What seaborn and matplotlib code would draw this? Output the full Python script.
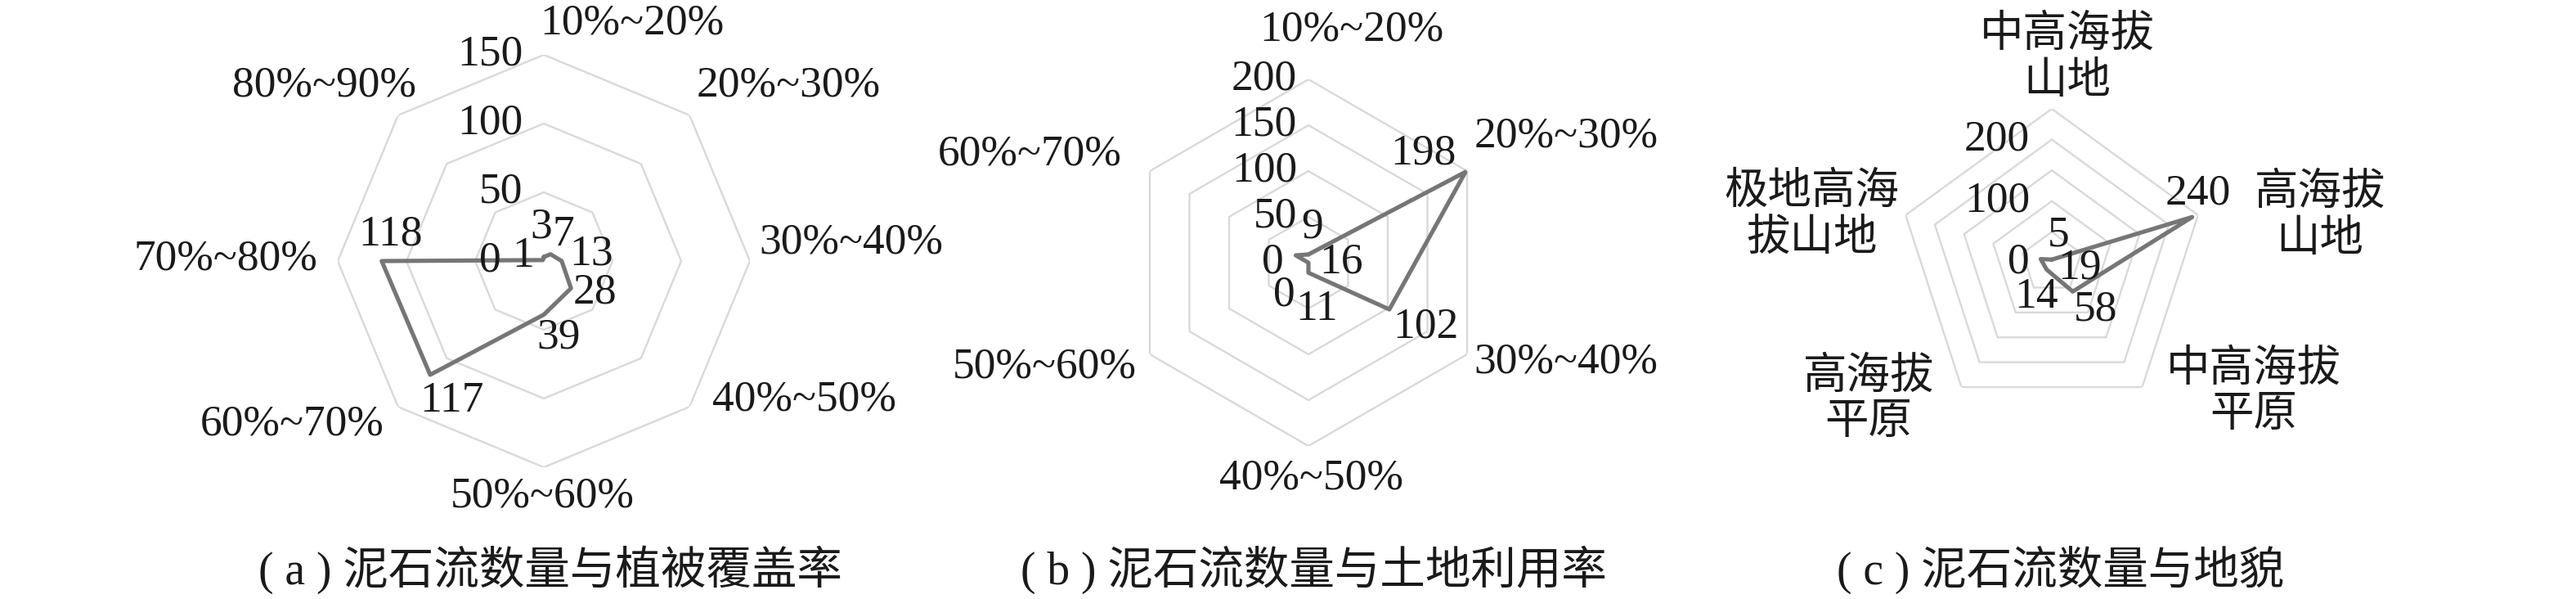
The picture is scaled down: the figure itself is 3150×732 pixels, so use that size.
import numpy as np
import seaborn as sns
import matplotlib
matplotlib.use("Agg")
import matplotlib.pyplot as plt

# data
veg_cats = ["10%~20%", "20%~30%", "30%~40%", "40%~50%",
            "50%~60%", "60%~70%", "70%~80%", "80%~90%"]
veg_counts = [3, 7, 13, 28, 39, 117, 118, 1]

land_cats = ["10%~20%", "20%~30%", "30%~40%", "40%~50%", "50%~60%", "60%~70%"]
land_counts = [9, 198, 102, 11, 0, 16]

geo_cats = ["中高海拔\n山地", "高海拔\n山地", "中高海拔\n平原", "高海拔\n平原", "极地高海\n拔山地"]
geo_counts = [5, 240, 58, 14, 19]

veg_rings = [50, 100, 150]
veg_ticks = [0, 50, 100, 150]
land_rings = [50, 100, 150, 200]
land_ticks = [0, 50, 100, 150, 200]
geo_rings = [50, 100, 150, 200, 250]
geo_ticks = [0, 100, 200]

captions = ["( a ) 泥石流数量与植被覆盖率", "( b ) 泥石流数量与土地利用率", "( c ) 泥石流数量与地貌"]

sns.set_theme(style="white")
plt.rcParams["font.family"] = ["Liberation Serif", "Noto Sans CJK SC"]

W, H = 3150, 732
LINE = "#767676"
GRID = "#d9d9d9"
TXT = "#1a1a1a"
FS = 38.5

# layout, in pixels from the top-left corner
panels = [
    dict(cats=veg_cats, vals=veg_counts, rings=veg_rings, ticks=veg_ticks,
         cx=665, cy=319, R=252, tick_dx=-26, zero_dx=-52,
         lab_off=[(-3, -36), (15, -24), (36, -9), (29, 5), (18, 28), (26, 32), (11, -32), (-24, -5)],
         cat_off=[(108, -291), (299, -215), (376, -23), (319, 170), (-2, 288),
                  (-308, 199), (-389, -2), (-268, -215)],
         cap_x=673),
    dict(cats=land_cats, vals=land_counts, rings=land_rings, ticks=land_ticks,
         cx=1600, cy=321, R=224, tick_dx=-14, zero_dx=-30,
         lab_off=[(5, -33), (-52, -23), (45, 21), (10, 45), (-30, 39), (56, 8)],
         cat_off=[(53, -284), (315, -154), (315, 122), (4, 263), (-323, 127), (-341, -133)],
         cap_x=1606),
    dict(cats=geo_cats, vals=geo_counts, rings=geo_rings, ticks=geo_ticks,
         cx=2509, cy=321, R=188, tick_dx=-27, zero_dx=-27,
         lab_off=[(8, -30), (7, -29), (28, 22), (-13, 33), (48, 11)],
         cat_off=[(19, -249), (328, -56), (247, 159), (-224, 168), (-294, -57)],
         cap_x=2520),
]

fig = plt.figure(figsize=(W / 100, H / 100), dpi=100)

for p in panels:
    R = p["R"]
    rect = [(p["cx"] - R) / W, (H - p["cy"] - R) / H, 2 * R / W, 2 * R / H]
    ax = fig.add_axes(rect, projection="polar")
    ax.set_theta_zero_location("N")
    ax.set_theta_direction(-1)
    ax.set_ylim(0, p["rings"][-1])
    ax.grid(False)
    ax.set_xticks([])
    ax.set_yticks([])
    ax.spines["polar"].set_visible(False)
    ax.patch.set_alpha(0)

    n = len(p["cats"])
    theta = np.linspace(0, 2 * np.pi, n, endpoint=False)
    theta_closed = np.append(theta, 2 * np.pi)

    for r in p["rings"]:
        ax.plot(theta_closed, [r] * (n + 1), color=GRID, lw=1.7, zorder=1)

    vals_closed = list(p["vals"]) + [p["vals"][0]]
    sns.lineplot(x=theta_closed, y=vals_closed, sort=False, estimator=None,
                 color=LINE, linewidth=3.7, ax=ax, zorder=3)
    ax.set_xlabel("")
    ax.set_ylabel("")

    # radial tick labels
    for t in p["ticks"]:
        dx = p["zero_dx"] if t == 0 else p["tick_dx"]
        ax.annotate(str(t), xy=(0, t), xytext=(dx, 0), textcoords="offset pixels",
                    ha="right", va="center", fontsize=FS, color=TXT, annotation_clip=False)

    # data labels
    for th, v, (dx, dy) in zip(theta, p["vals"], p["lab_off"]):
        ax.annotate(str(v), xy=(th, v), xytext=(dx, -dy), textcoords="offset pixels",
                    ha="center", va="center", fontsize=FS, color=TXT, annotation_clip=False)

    # category labels
    for c, (dx, dy) in zip(p["cats"], p["cat_off"]):
        ax.annotate(c, xy=(0, 0), xytext=(dx, -dy), textcoords="offset pixels",
                    ha="center", va="center", fontsize=FS, color=TXT,
                    linespacing=1.2, annotation_clip=False)

for p, cap in zip(panels, captions):
    fig.text(p["cap_x"] / W, 1 - 696 / H, cap, ha="center", va="center",
             fontsize=40, color=TXT)

fig.savefig("out.png", dpi=100)
